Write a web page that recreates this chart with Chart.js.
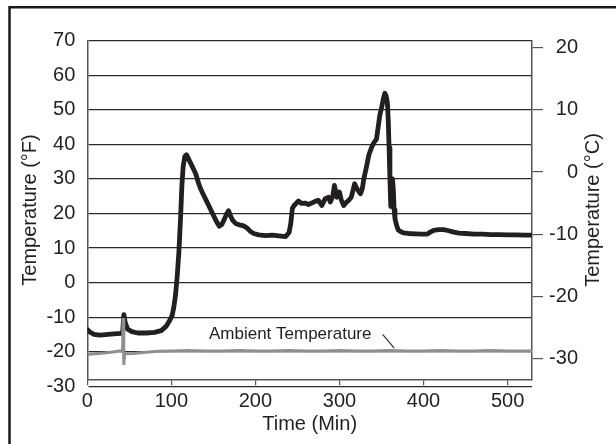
<!DOCTYPE html>
<html>
<head>
<meta charset="utf-8">
<script src="https://cdn.jsdelivr.net/npm/chart.js@4.4.1/dist/chart.umd.min.js"></script>
<style>
html,body{margin:0;padding:0;background:#ffffff;}
#wrap{width:616px;height:444px;}
</style>
</head>
<body>
<div id="wrap"><canvas id="c" width="616" height="444"></canvas></div>
<script>
// ---- data ----
const productTime = [0,3,8,15,25,35,42,43.5,45,48,53,60,70,80,88,94,98,101,103,105,107,109,111,112.5,114,116,118,120,123,126,129,132,135,138,142,146,150,154,157,160,163,166,168,170,173,177,181,186,190,194,198,204,212,220,228,236,240,242,244,246,251,255,259,263,267,271,275,279,283,287,289,292,294,297,300,302,305,308,311,314,318,320,322,325,327,329,332,335,338,341,344,346,348,350,352,354,355.5,357,358,359,360,361,362,363,364,365,366,368,370,373,376,382,390,398,404,408,412,418,424,430,436,442,450,460,470,480,490,500,510,520,529];
const productF    = [-13.6,-14.3,-15.0,-15.2,-15.0,-14.8,-14.7,-9.3,-11.5,-13.5,-14.2,-14.6,-14.6,-14.4,-13.9,-12.6,-11.0,-9.5,-7.0,-3.5,2.0,9.0,19.0,28.0,33.5,36.5,37.0,36.0,34.5,33.0,31.5,29.0,27.0,25.5,23.5,21.5,19.5,17.5,16.3,16.8,18.3,20.0,20.8,19.5,18.0,17.0,16.7,16.4,15.8,14.8,14.2,13.8,13.6,13.7,13.5,13.3,14.5,17.0,21.5,22.3,23.6,22.9,23.0,22.6,23.0,23.5,23.8,22.3,24.3,24.7,23.3,25.0,28.1,24.7,26.2,24.0,22.3,23.2,23.8,24.7,28.6,27.5,26.7,25.7,27.0,30.1,33.4,37.0,39.0,40.5,41.5,45.0,48.5,50.5,53.0,54.8,54.0,52.0,47.0,39.0,30.0,22.0,24.0,30.0,27.0,21.0,18.5,16.5,15.2,14.7,14.4,14.2,14.1,14.0,14.0,14.6,15.1,15.3,15.3,15.0,14.6,14.3,14.2,14.0,14.0,13.9,13.9,13.8,13.8,13.7,13.7];

const ambientTime = [0,10,20,30,38,42,42.6,43.4,44.5,55,70,85,100,120,140,160,180,200,220,240,260,280,300,320,340,360,380,400,420,440,460,480,500,529];
const ambientF    = [-20.8,-20.6,-20.4,-20.1,-19.8,-19.8,-10.3,-23.8,-20.6,-20.5,-20.2,-19.9,-19.8,-19.7,-19.8,-19.8,-19.7,-19.8,-19.8,-19.7,-19.8,-19.8,-19.7,-19.8,-19.8,-19.7,-19.8,-19.8,-19.7,-19.8,-19.8,-19.7,-19.8,-19.8];

const xTicks      = [0,100,200,300,400,500];
const leftTicksF  = [-30,-20,-10,0,10,20,30,40,50,60,70];
const rightTicksC = [-30,-20,-10,0,10,20];

const xMin = 0, xMax = 529;
const fMin = -28, fMax = 70;

const ambientLabel = 'Ambient Temperature';
const ambientLabelAt = {t: 144.7, f: -16.2};
const leaderFrom = {t: 351.3, f: -15.0};
const leaderTo   = {t: 365.1, f: -19.0};

// ---- build ----
const toPts = (xs, ys) => xs.map((x, i) => ({x: x, y: ys[i]}));
const F2C = f => (f - 32) * 5 / 9;
const FONT = "'Liberation Sans', Arial, Helvetica, sans-serif";
const INK = '#231f20';

const framePlugin = {
  id: 'frame',
  beforeDraw(chart) {
    const ctx = chart.ctx;
    ctx.save();
    ctx.fillStyle = '#ffffff';
    ctx.fillRect(0, 0, chart.width, chart.height);
    ctx.strokeStyle = '#1a1a1a';
    ctx.lineWidth = 2.5;
    ctx.beginPath();
    ctx.moveTo(9.5, chart.height);
    ctx.lineTo(9.5, 7.3);
    ctx.lineTo(chart.width, 7.3);
    ctx.stroke();
    ctx.restore();
  }
};

const annotPlugin = {
  id: 'annot',
  afterDraw(chart) {
    const ctx = chart.ctx;
    const xs = chart.scales.x, ys = chart.scales.y;
    const area = chart.chartArea;
    ctx.save();
    // ambient label
    ctx.fillStyle = INK;
    ctx.font = '17px ' + FONT;
    ctx.textAlign = 'left';
    ctx.textBaseline = 'alphabetic';
    ctx.fillText(ambientLabel, xs.getPixelForValue(ambientLabelAt.t), ys.getPixelForValue(ambientLabelAt.f));
    // leader line
    ctx.strokeStyle = '#333333';
    ctx.lineWidth = 1.2;
    ctx.beginPath();
    ctx.moveTo(xs.getPixelForValue(leaderFrom.t), ys.getPixelForValue(leaderFrom.f));
    ctx.lineTo(xs.getPixelForValue(leaderTo.t), ys.getPixelForValue(leaderTo.f));
    ctx.stroke();
    // right axis title (reads bottom to top)
    ctx.font = '20px ' + FONT;
    ctx.textAlign = 'center';
    ctx.textBaseline = 'middle';
    ctx.translate(593, (area.top + area.bottom) / 2);
    ctx.rotate(-Math.PI / 2);
    ctx.fillText('Temperature (\u00B0C)', 0, 0);
    ctx.restore();
  }
};

new Chart(document.getElementById('c'), {
  type: 'line',
  data: {
    datasets: [
      {
        label: 'Ambient',
        data: toPts(ambientTime, ambientF),
        borderColor: '#8f8f8f',
        borderWidth: 3,
        pointRadius: 0,
        tension: 0,
        yAxisID: 'y'
      },
      {
        label: 'Product',
        data: toPts(productTime, productF),
        borderColor: INK,
        borderWidth: 4.8,
        borderJoinStyle: 'round',
        borderCapStyle: 'round',
        pointRadius: 0,
        tension: 0,
        yAxisID: 'y'
      }
    ]
  },
  options: {
    responsive: false,
    animation: false,
    devicePixelRatio: 1,
    layout: {padding: {top: 40.7, left: 0, right: 38, bottom: 0}},
    plugins: {legend: {display: false}, tooltip: {enabled: false}},
    scales: {
      x: {
        type: 'linear',
        position: 'bottom',
        min: xMin, max: xMax,
        afterBuildTicks: s => { s.ticks = xTicks.map(v => ({value: v})); },
        afterFit: s => { s.height = 64.7; },
        grid: {drawOnChartArea: false, drawTicks: true, tickLength: 6, color: '#555555', lineWidth: 1.2},
        border: {display: true, color: '#555555', width: 1.5},
        ticks: {color: INK, font: {family: FONT, size: 20}, padding: 4, maxRotation: 0, autoSkip: false},
        title: {display: true, text: 'Time (Min)', color: INK, font: {family: FONT, size: 20}, padding: {top: 0, bottom: 8}}
      },
      y: {
        type: 'linear',
        position: 'left',
        min: fMin, max: fMax,
        afterBuildTicks: s => { s.ticks = leftTicksF.map(v => ({value: v})); },
        afterFit: s => { s.width = 87.3; },
        grid: {drawTicks: false, color: '#2b2b2b', lineWidth: 1.2},
        border: {display: true, color: '#555555', width: 1.5},
        ticks: {color: INK, font: {family: FONT, size: 20}, padding: 12, autoSkip: false},
        title: {display: true, text: 'Temperature (\u00B0F)', color: INK, font: {family: FONT, size: 20}, padding: {top: 18, bottom: 0}}
      },
      y2: {
        type: 'linear',
        position: 'right',
        min: F2C(fMin), max: F2C(fMax),
        afterBuildTicks: s => { s.ticks = rightTicksC.map(v => ({value: v})); },
        afterFit: s => { s.width = 46; },
        grid: {drawOnChartArea: false, drawTicks: true, tickLength: 11, color: '#555555', lineWidth: 1.2},
        border: {display: true, color: '#555555', width: 1.5},
        ticks: {color: INK, font: {family: FONT, size: 20}, padding: 5, crossAlign: 'far', autoSkip: false},
        title: {display: false}
      }
    }
  },
  plugins: [framePlugin, annotPlugin]
});
</script>
</body>
</html>
